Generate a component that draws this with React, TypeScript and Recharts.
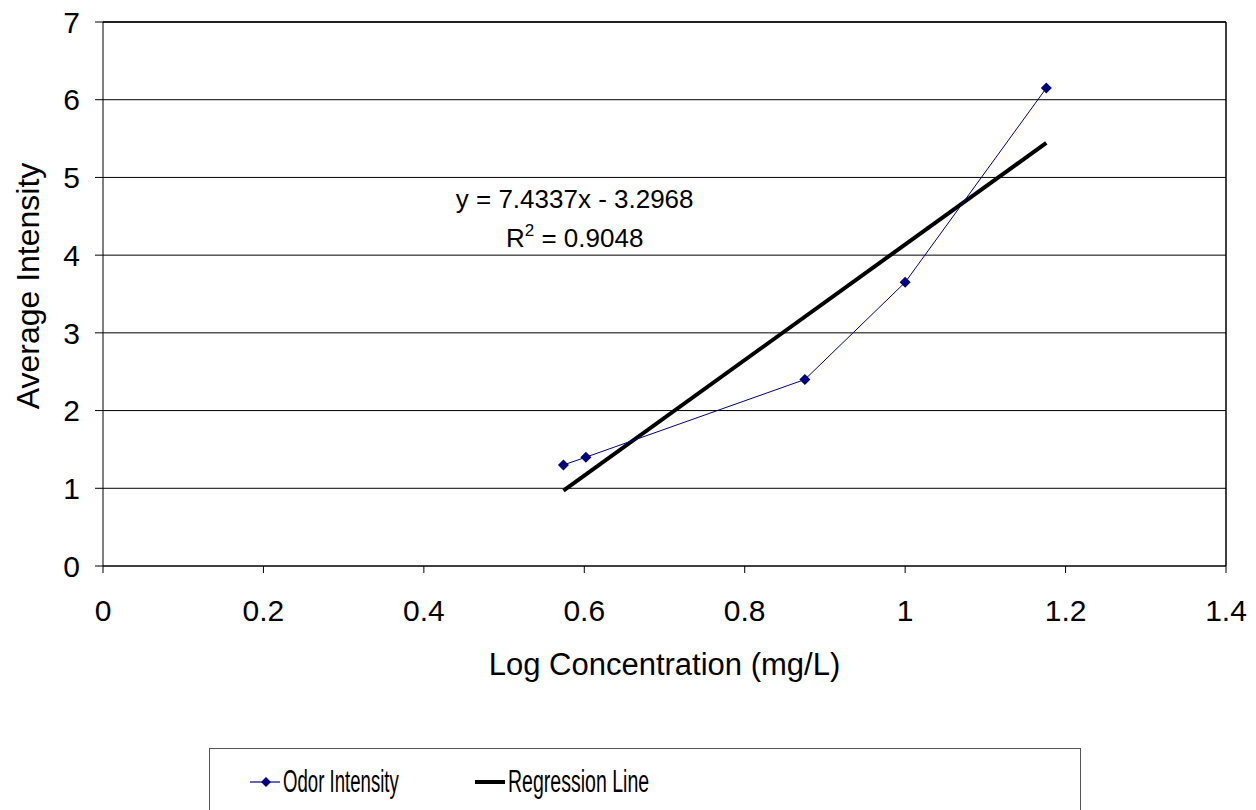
import React from "react";
import {
  ComposedChart,
  Scatter,
  XAxis,
  YAxis,
  CartesianGrid,
  ReferenceLine,
  ReferenceDot,
  Label,
} from "recharts";

// measured points (log concentration vs average intensity)
const logConcentration = [0.574, 0.602, 0.875, 1.0, 1.176];
const averageIntensity = [1.3, 1.4, 2.4, 3.65, 6.15];

const xTicks = [0, 0.2, 0.4, 0.6, 0.8, 1, 1.2, 1.4];
const yTicks = [0, 1, 2, 3, 4, 5, 6, 7];

// trendline from the chart's equation
const slope = 7.4337;
const intercept = -3.2968;
const rSquared = 0.9048;

const FONT = "'Liberation Sans', Arial, sans-serif";
const NAVY = "#000080";

const odorData = logConcentration.map((x, i) => ({ x, y: averageIntensity[i] }));
const xMin = Math.min(...logConcentration);
const xMax = Math.max(...logConcentration);
const regressionData = [xMin, xMax].map((x) => ({ x, y: slope * x + intercept }));

const Diamond = (props: any) => {
  const { cx, cy } = props;
  if (cx == null || cy == null) return <g />;
  const r = 5.5;
  return (
    <path
      d={`M${cx},${cy - r} L${cx + r},${cy} L${cx},${cy + r} L${cx - r},${cy} Z`}
      fill={NAVY}
    />
  );
};

const NoDot = () => <g />;

const EquationLabel = (props: any) => {
  const { viewBox } = props;
  const cx = viewBox.x + (viewBox.width || 0) / 2;
  const cy = viewBox.y + (viewBox.height || 0) / 2;
  return (
    <g fontFamily={FONT} fontSize={26} fill="#000" textAnchor="middle">
      <text x={cx} y={cy + 9}>
        {`y = ${slope}x - ${Math.abs(intercept)}`}
      </text>
      <text x={cx} y={cy + 48}>
        R<tspan dy={-11} fontSize={17}>2</tspan>
        <tspan dy={11}>{` = ${rSquared}`}</tspan>
      </text>
    </g>
  );
};

const LegendBox = () => (
  <div
    style={{
      position: "absolute",
      left: 209,
      top: 748,
      width: 870,
      height: 90,
      border: "1.5px solid #555",
      background: "#fff",
      fontFamily: FONT,
      fontSize: 31,
      color: "#000",
    }}
  >
    <div style={{ position: "absolute", left: 40, top: 15, display: "flex", alignItems: "center" }}>
      <svg width={30} height={14}>
        <line x1={0} y1={7} x2={30} y2={7} stroke={NAVY} strokeWidth={1.2} />
        <path d="M16,2 L21,7 L16,12 L11,7 Z" fill={NAVY} />
      </svg>
      <span style={{ display: "inline-block", marginLeft: 3, transform: "scaleX(0.6)", transformOrigin: "left center" }}>
        Odor Intensity
      </span>
    </div>
    <div style={{ position: "absolute", left: 265, top: 15, display: "flex", alignItems: "center" }}>
      <svg width={30} height={14}>
        <line x1={0} y1={7} x2={30} y2={7} stroke="#000" strokeWidth={4} />
      </svg>
      <span style={{ display: "inline-block", marginLeft: 3, transform: "scaleX(0.63)", transformOrigin: "left center" }}>
        Regression Line
      </span>
    </div>
  </div>
);

export default function App() {
  return (
    <div
      style={{
        position: "absolute",
        left: 0,
        top: 0,
        width: 1256,
        height: 810,
        overflow: "hidden",
        background: "#fff",
      }}
    >
      <ComposedChart
        width={1256}
        height={810}
        margin={{ top: 22, right: 30, left: 0, bottom: 0 }}
        style={{ fontFamily: FONT }}
      >
        <CartesianGrid vertical={false} stroke="#000" strokeWidth={1} />
        <XAxis
          type="number"
          dataKey="x"
          domain={[0, 1.4]}
          ticks={xTicks}
          interval={0}
          allowDataOverflow
          height={244}
          tickSize={7}
          tickMargin={27}
          axisLine={{ stroke: "#000" }}
          tickLine={{ stroke: "#000" }}
          tick={{ fill: "#000", fontSize: 30 }}
        >
          <Label
            content={(p: any) => {
              const vb = p.viewBox;
              return (
                <text
                  x={vb.x + vb.width / 2}
                  y={vb.y + 98}
                  textAnchor="middle"
                  dominantBaseline="central"
                  fontSize={31}
                  fontFamily={FONT}
                  fill="#000"
                >
                  Log Concentration (mg/L)
                </text>
              );
            }}
          />
        </XAxis>
        <YAxis
          type="number"
          dataKey="y"
          domain={[0, 7]}
          ticks={yTicks}
          interval={0}
          width={103}
          tickSize={8}
          tickMargin={15}
          axisLine={{ stroke: "#000" }}
          tickLine={{ stroke: "#000" }}
          tick={{ fill: "#000", fontSize: 30 }}
        >
          <Label
            content={(p: any) => {
              const vb = p.viewBox;
              const cy = vb.y + vb.height / 2 - 8;
              return (
                <text
                  x={28}
                  y={cy}
                  transform={`rotate(-90, 28, ${cy})`}
                  textAnchor="middle"
                  dominantBaseline="central"
                  fontSize={32}
                  fontFamily={FONT}
                  fill="#000"
                >
                  Average Intensity
                </text>
              );
            }}
          />
        </YAxis>
        <ReferenceLine y={7} stroke="#000" strokeWidth={1.5} />
        <ReferenceLine x={1.4} stroke="#000" strokeWidth={1.5} />
        <Scatter
          name="Regression Line"
          data={regressionData}
          line={{ stroke: "#000", strokeWidth: 4 }}
          shape={NoDot}
          isAnimationActive={false}
        />
        <Scatter
          name="Odor Intensity"
          data={odorData}
          line={{ stroke: NAVY, strokeWidth: 1 }}
          shape={Diamond}
          fill={NAVY}
          isAnimationActive={false}
        />
        <ReferenceDot x={0.588} y={4.72} r={0} stroke="none" fill="none" label={<EquationLabel />} />
      </ComposedChart>
      <LegendBox />
    </div>
  );
}
